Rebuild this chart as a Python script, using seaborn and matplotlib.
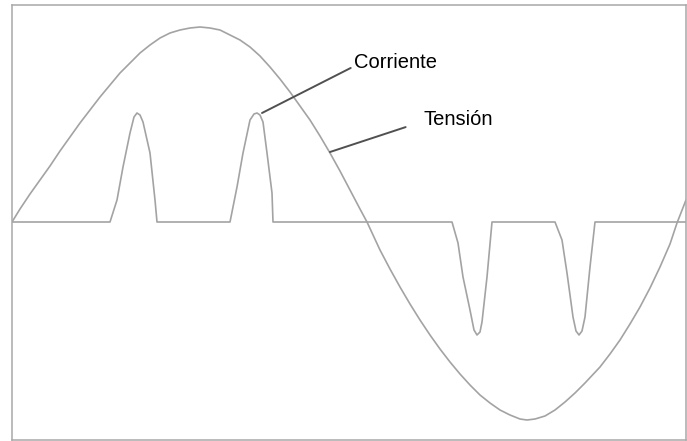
import matplotlib
matplotlib.use("Agg")
import matplotlib.pyplot as plt
import seaborn as sns
import pandas as pd

# Voltage (Tensión) curve
voltage_x = [12, 20, 30, 40, 50, 60, 70, 80, 90, 100, 110, 120, 130, 140, 150, 160, 170, 180,
             190, 200, 210, 220, 230, 240, 250, 260, 270, 280, 290, 300, 310, 320, 330, 340,
             350, 360, 367, 380, 390, 400, 410, 420, 430, 440, 450, 460, 470, 480, 490, 500,
             510, 520, 527, 535, 545, 555, 565, 575, 585, 600, 610, 620, 630, 640, 650, 660,
             670, 677, 686]
voltage_y = [0, 13, 28, 42, 56, 71, 85, 99, 112, 125, 137, 149, 159, 169, 177, 184, 189, 192,
             194, 195, 194, 192, 187, 182, 175, 166, 155, 143, 130, 116, 102, 86, 69, 51,
             32, 13, 0, -28, -47, -65, -82, -98, -113, -127, -140, -152, -163, -173, -181, -188,
             -193, -197, -198, -197, -194, -188, -180, -171, -161, -145, -132, -118, -102, -85, -66, -45,
             -22, -1, 22]

# Current (Corriente) curve
current_x = [12, 110, 117, 123, 130, 134, 137, 140, 143, 150, 155, 157,
             230, 237, 243, 250, 254, 257, 260, 263, 267, 272, 273,
             452, 458, 463, 470, 474, 477, 480, 482, 487, 492,
             555, 562, 567, 573, 576, 579, 582, 585, 590, 595, 686]
current_y = [0, 0, 22, 55, 89, 105, 109, 107, 100, 69, 22, 0,
             0, 35, 69, 102, 108, 109, 107, 100, 69, 29, 0,
             0, -21, -55, -88, -108, -113, -110, -100, -55, 0,
             0, -18, -51, -95, -109, -113, -109, -95, -45, 0, 0]

labels = ["Corriente", "Tensión"]

sns.set_style("white")
plt.rcParams['font.family'] = ['Liberation Sans', 'DejaVu Sans']

fig = plt.figure(figsize=(6.87, 4.41), dpi=100)
ax = fig.add_axes([12 / 687, 1 / 441, 674 / 687, 435 / 441])

df_v = pd.DataFrame({"x": voltage_x, "y": voltage_y})
df_c = pd.DataFrame({"x": current_x, "y": current_y})
sns.lineplot(data=df_v, x="x", y="y", ax=ax, color="#a3a3a3", linewidth=1.2, sort=False)
sns.lineplot(data=df_c, x="x", y="y", ax=ax, color="#a3a3a3", linewidth=1.2, sort=False)

ax.set_xlim(12, 686)
ax.set_ylim(-218, 217)
ax.set_xticks([])
ax.set_yticks([])
ax.set_xlabel("")
ax.set_ylabel("")
for s in ax.spines.values():
    s.set_visible(True)
    s.set_color("#a8a8a8")
    s.set_linewidth(1.1)

ax.annotate(labels[0], xy=(262, 109), xytext=(354, 154), ha="left", va="baseline",
            fontsize=14.5, color="black",
            arrowprops=dict(arrowstyle="-", color="#505050", lw=1.4,
                            shrinkA=0, shrinkB=0, relpos=(0, 0.3)))
ax.annotate(labels[1], xy=(330, 70), xytext=(423, 97), ha="left", va="baseline",
            fontsize=14.5, color="black",
            arrowprops=dict(arrowstyle="-", color="#505050", lw=1.4,
                            shrinkA=0, shrinkB=0, relpos=(-0.25, 0.1)))

fig.savefig("out.png", dpi=100)
